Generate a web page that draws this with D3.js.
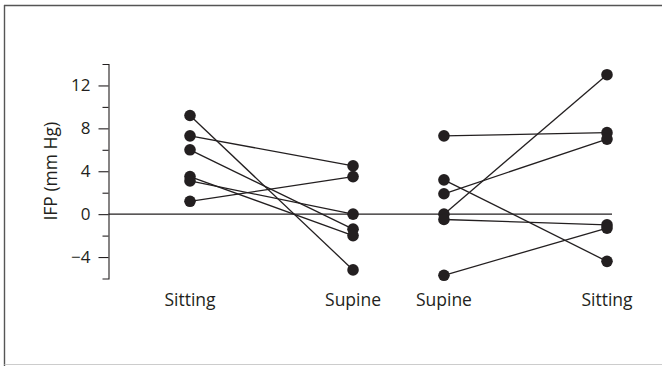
<!DOCTYPE html>
<html>
<head>
<meta charset="utf-8">
<script src="https://cdn.jsdelivr.net/npm/d3@7"></script>
<style>
  html, body { margin: 0; padding: 0; background: #fff; }
  svg { display: block; }
  text { font-family: "Open Sans", "Noto Sans", sans-serif; fill: #231f20; }
</style>
</head>
<body>
<script>
// paired IFP readings (mm Hg), one entry per subject
const groups = ['first', 'second'];
const conditions = [['Sitting', 'Supine'], ['Supine', 'Sitting']];
const firstSitting = [9.2, 7.3, 6.0, 3.5, 3.1, 1.2];
const firstSupine = [-5.2, 4.5, -1.4, -2.0, 0.0, 3.5];
const secondSupine = [7.3, 1.9, 0.0, 3.2, -0.5, -5.7];
const secondSitting = [7.6, 7.0, 13.0, -4.4, -1.0, -1.3];
const majorTicks = [-4, 0, 4, 8, 12];
const minorTicks = [-2, 2, 6, 10];

const width = 662, height = 366;
const svg = d3.select('body').append('svg')
  .attr('width', width)
  .attr('height', height);

// frame
svg.append('line').attr('x1', 4).attr('x2', width).attr('y1', 5.5).attr('y2', 5.5)
  .attr('stroke', '#555').attr('stroke-width', 1.6);
svg.append('line').attr('x1', 4.5).attr('x2', 4.5).attr('y1', 5).attr('y2', height)
  .attr('stroke', '#555').attr('stroke-width', 1.4);
svg.append('line').attr('x1', 4.5).attr('x2', width).attr('y1', 364.5).attr('y2', 364.5)
  .attr('stroke', '#ccc').attr('stroke-width', 1);

const axisX = 108.5;
const y = d3.scaleLinear().domain([-6, 14]).range([278.5, 64]);

// outer band per pair, inner point per condition
const xGroup = d3.scaleBand().domain(groups).range([190, 607]).paddingInner(0.358).paddingOuter(0);
const xCond = d3.scalePoint().domain([0, 1]).range([0, xGroup.bandwidth()]);

// axis
svg.append('g')
  .attr('transform', `translate(${axisX},0)`)
  .call(d3.axisLeft(y).tickValues(minorTicks).tickSize(6).tickSizeOuter(6).tickFormat(''))
  .call(g => g.selectAll('line, path').attr('stroke', '#231f20').attr('stroke-width', 1.1));

svg.append('g')
  .attr('transform', `translate(${axisX},0)`)
  .call(d3.axisLeft(y).tickValues(majorTicks).tickSize(10).tickPadding(8)
    .tickFormat(d => d < 0 ? '\u2212' + Math.abs(d) : d))
  .call(g => g.select('.domain').remove())
  .call(g => g.selectAll('line').attr('stroke', '#231f20').attr('stroke-width', 1.1))
  .call(g => g.selectAll('text').attr('font-size', 17).attr('fill', '#231f20')
    .attr('font-family', '"Open Sans", sans-serif'));

svg.append('text')
  .attr('transform', `translate(57,${y(4.0)}) rotate(-90)`)
  .attr('text-anchor', 'middle')
  .attr('font-size', 17.5)
  .text('IFP (mm Hg)');

// zero line
svg.append('line')
  .attr('x1', axisX).attr('x2', 612)
  .attr('y1', y(0)).attr('y2', y(0))
  .attr('stroke', '#231f20').attr('stroke-width', 1.1);

const pairs = [
  [firstSitting, firstSupine],
  [secondSupine, secondSitting]
];

groups.forEach((grp, gi) => {
  const [a, b] = pairs[gi];
  const x0 = xGroup(grp) + xCond(0);
  const x1 = xGroup(grp) + xCond(1);
  const g = svg.append('g');
  g.selectAll('line.pair')
    .data(d3.zip(a, b))
    .join('line')
    .attr('class', 'pair')
    .attr('x1', x0).attr('x2', x1)
    .attr('y1', d => y(d[0])).attr('y2', d => y(d[1]))
    .attr('stroke', '#231f20').attr('stroke-width', 1.3);
  g.selectAll('circle.a')
    .data(a)
    .join('circle')
    .attr('class', 'a')
    .attr('cx', x0).attr('cy', d => y(d)).attr('r', 5.8)
    .attr('fill', '#231f20');
  g.selectAll('circle.b')
    .data(b)
    .join('circle')
    .attr('class', 'b')
    .attr('cx', x1).attr('cy', d => y(d)).attr('r', 5.8)
    .attr('fill', '#231f20');
  conditions[gi].forEach((label, ci) => {
    svg.append('text')
      .attr('x', xGroup(grp) + xCond(ci))
      .attr('y', 306)
      .attr('text-anchor', 'middle')
      .attr('font-size', 17.5)
      .text(label);
  });
});
</script>
</body>
</html>
